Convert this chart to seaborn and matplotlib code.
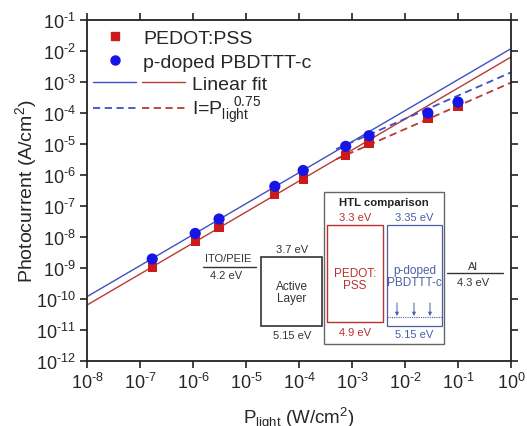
import numpy as np
import pandas as pd
import seaborn as sns
import matplotlib.pyplot as plt
from matplotlib.ticker import LogLocator, NullLocator, FuncFormatter
from matplotlib.lines import Line2D
from matplotlib.patches import Rectangle
from matplotlib.legend_handler import HandlerTuple

# light intensity (W/cm2)
p_light = [1.7e-7, 1.1e-6, 3.1e-6, 3.5e-5, 1.2e-4, 7.6e-4, 2.1e-3, 2.7e-2, 1.0e-1]
# photocurrent (A/cm2) for the two hole transport layers
i_pedot = [1.05e-9, 7.0e-9, 2.05e-8, 2.3e-7, 7.4e-7, 4.2e-6, 1.05e-5, 6.7e-5, 1.65e-4]
i_pbdttt = [1.95e-9, 1.3e-8, 3.8e-8, 4.3e-7, 1.4e-6, 8.4e-6, 1.85e-5, 1.0e-4, 2.25e-4]

# I = c * P^0.75 curves (log10 of c), drawn from pow_start upwards
pow_exp = 0.75
pow_logc_pedot = -3.02
pow_logc_pbdttt = -2.69
pow_start = 5e-4

RED = "#cc1a1a"
BLUE = "#1515e6"
RED_LINE = "#b83a34"
BLUE_LINE = "#4050c0"


def linear_fit(p, i, n=5):
    # slope-1 fit on the low intensity points (log-log)
    lp = np.log10(p[:n])
    li = np.log10(i[:n])
    return np.mean(li - lp)


def pow10(v, pos):
    n = int(round(np.log10(v)))
    if n < 0:
        return r"$10^{\text{-%d}}$" % (-n)
    return r"$10^{%d}$" % n


def main():
    sns.set_style("ticks")
    plt.rcParams["font.family"] = ["Liberation Sans", "DejaVu Sans"]
    plt.rcParams["mathtext.fontset"] = "custom"
    plt.rcParams["mathtext.rm"] = "Liberation Sans"
    plt.rcParams["mathtext.it"] = "Liberation Sans:italic"
    plt.rcParams["mathtext.bf"] = "Liberation Sans:bold"

    fig = plt.figure(figsize=(5.27, 4.27), dpi=100)
    W, H = 527, 427
    ax = fig.add_axes([87 / W, 1 - 362 / H, (511 - 87) / W, (362 - 21) / H])

    df = pd.DataFrame({"P": p_light, "PEDOT": i_pedot, "PBDTTT": i_pbdttt})

    # fit lines over the full x range
    p_all = np.logspace(-8, 0, 50)
    fit = pd.DataFrame({
        "P": p_all,
        "PEDOT": p_all * 10 ** linear_fit(np.array(p_light), np.array(i_pedot)),
        "PBDTTT": p_all * 10 ** linear_fit(np.array(p_light), np.array(i_pbdttt)),
    })
    p_hi = np.logspace(np.log10(pow_start), 0, 30)
    powc = pd.DataFrame({
        "P": p_hi,
        "PEDOT": 10 ** pow_logc_pedot * p_hi ** pow_exp,
        "PBDTTT": 10 ** pow_logc_pbdttt * p_hi ** pow_exp,
    })

    sns.lineplot(data=fit, x="P", y="PBDTTT", color=BLUE_LINE, lw=1.0, ax=ax)
    sns.lineplot(data=fit, x="P", y="PEDOT", color=RED_LINE, lw=1.0, ax=ax)
    sns.lineplot(data=powc, x="P", y="PBDTTT", color=BLUE_LINE, lw=1.3, ax=ax)
    sns.lineplot(data=powc, x="P", y="PEDOT", color=RED_LINE, lw=1.3, ax=ax)
    ax.lines[2].set_dashes((4, 2.5))
    ax.lines[3].set_dashes((4, 2.5))

    sns.scatterplot(data=df, x="P", y="PEDOT", marker="s", color=RED, s=45,
                    edgecolor="none", ax=ax, zorder=3)
    sns.scatterplot(data=df, x="P", y="PBDTTT", marker="o", color=BLUE, s=65,
                    edgecolor="none", ax=ax, zorder=4)

    ax.set_xscale("log")
    ax.set_yscale("log")
    ax.set_xlim(1e-8, 1)
    ax.set_ylim(1e-12, 1e-1)
    for axis in (ax.xaxis, ax.yaxis):
        axis.set_major_locator(LogLocator(base=10, numticks=20))
        axis.set_minor_locator(NullLocator())
        axis.set_major_formatter(FuncFormatter(pow10))
    ax.tick_params(which="major", direction="out", length=5, width=1.2,
                   labelsize=13, top=True, right=True, pad=3, color="#222222")
    for s in ax.spines.values():
        s.set_linewidth(1.3)
        s.set_color("#222222")
        s.set_visible(True)

    ax.set_xlabel(r"P$_{\mathrm{light}}$ (W/cm$^2$)", fontsize=13.5, labelpad=9)
    ax.set_ylabel(r"Photocurrent (A/cm$^2$)", fontsize=14)
    ax.yaxis.set_label_coords(-0.113, 0.5)

    # legend: markers
    fs = 14
    sq = Line2D([], [], ls="", marker="s", color=RED, markersize=6)
    ci = Line2D([], [], ls="", marker="o", color=BLUE, markersize=6.5)
    leg1 = ax.legend([sq, ci], ["PEDOT:PSS", "p-doped PBDTTT-c"],
                     loc="upper left", bbox_to_anchor=(101.4 / W, 1 - 30.5 / H),
                     bbox_transform=fig.transFigure, frameon=False, fontsize=fs,
                     borderpad=0, borderaxespad=0, handlelength=1.4,
                     handletextpad=0.74, labelspacing=0.33)
    ax.add_artist(leg1)

    # legend: lines
    bl = Line2D([], [], color=BLUE_LINE, lw=1.0)
    rl = Line2D([], [], color=RED_LINE, lw=1.0)
    bd = Line2D([], [], color=BLUE_LINE, lw=1.3, dashes=(4, 2.5))
    rd = Line2D([], [], color=RED_LINE, lw=1.3, dashes=(4, 2.5))
    ax.legend([(bl, rl), (bd, rd)],
              ["Linear fit", r"I=P$_{\mathrm{light}}^{\ \ \ 0.75}$"],
              handler_map={tuple: HandlerTuple(ndivide=None, pad=0.31)},
              loc="upper left", bbox_to_anchor=(93 / W, 1 - 76 / H),
              bbox_transform=fig.transFigure, frameon=False, fontsize=fs,
              borderpad=0, borderaxespad=0, handlelength=4.74,
              handletextpad=0.36, labelspacing=0.14)

    # energy level diagram, drawn in figure pixels
    d = fig.add_axes([0, 0, 1, 1], zorder=5)
    d.set_xlim(0, W)
    d.set_ylim(H, 0)
    d.axis("off")
    d.patch.set_alpha(0)

    DARK = "#333333"
    DRED = "#b8322e"
    DBLUE = "#4a5fa5"
    sf = 8
    bf = 8.5

    # ITO/PEIE
    d.plot([203, 256], [267.5, 267.5], color=DARK, lw=1)
    d.text(228, 259.5, "ITO/PEIE", ha="center", va="center", fontsize=8, color=DARK)
    d.text(226, 276, "4.2 eV", ha="center", va="center", fontsize=8, color=DARK)

    # active layer
    d.add_patch(Rectangle((261, 258), 61, 69, fill=False, ec=DARK, lw=1.2))
    d.text(292, 250.5, "3.7 eV", ha="center", va="center", fontsize=sf, color=DARK)
    d.text(291.5, 293, "Active\nLayer", ha="center", va="center", fontsize=8.5,
           color=DARK, linespacing=1.1)
    d.text(292, 336.5, "5.15 eV", ha="center", va="center", fontsize=sf, color=DARK)

    # HTL comparison
    d.add_patch(Rectangle((324, 193), 120, 152, fill=False, ec="#666666", lw=1))
    d.text(384, 203.5, "HTL comparison", ha="center", va="center", fontsize=8.2,
           fontweight="bold", color="#222222")
    d.add_patch(Rectangle((327, 226), 56, 97, fill=False, ec=DRED, lw=1))
    d.text(355, 218, "3.3 eV", ha="center", va="center", fontsize=sf, color=DRED)
    d.text(355, 280, "PEDOT:\nPSS", ha="center", va="center", fontsize=bf,
           color=DRED, linespacing=1.1)
    d.text(355, 333, "4.9 eV", ha="center", va="center", fontsize=sf, color=DRED)

    d.add_patch(Rectangle((387, 226), 55, 101, fill=False, ec=DBLUE, lw=0.9))
    d.text(414, 218, "3.35 eV", ha="center", va="center", fontsize=sf, color=DBLUE)
    d.text(414.5, 277, "p-doped\nPBDTTT-c", ha="center", va="center", fontsize=bf,
           color=DBLUE, linespacing=1.1)
    d.text(414, 335.5, "5.15 eV", ha="center", va="center", fontsize=sf, color=DBLUE)
    d.plot([387, 442], [318, 318], color=DBLUE, lw=0.8, ls=(0, (1, 1)))
    for xa in [397, 414, 430]:
        d.annotate("", xy=(xa, 317), xytext=(xa, 304),
                   arrowprops=dict(arrowstyle="-|>", color=DBLUE, lw=0.7,
                                   mutation_scale=5, shrinkA=0, shrinkB=0))

    # Al
    d.plot([447, 503], [274, 274], color=DARK, lw=1)
    d.text(473, 267.5, "Al", ha="center", va="center", fontsize=sf, color=DARK)
    d.text(473, 283, "4.3 eV", ha="center", va="center", fontsize=sf, color=DARK)

    plt.savefig("out.png", dpi=100)


if __name__ == "__main__":
    main()
